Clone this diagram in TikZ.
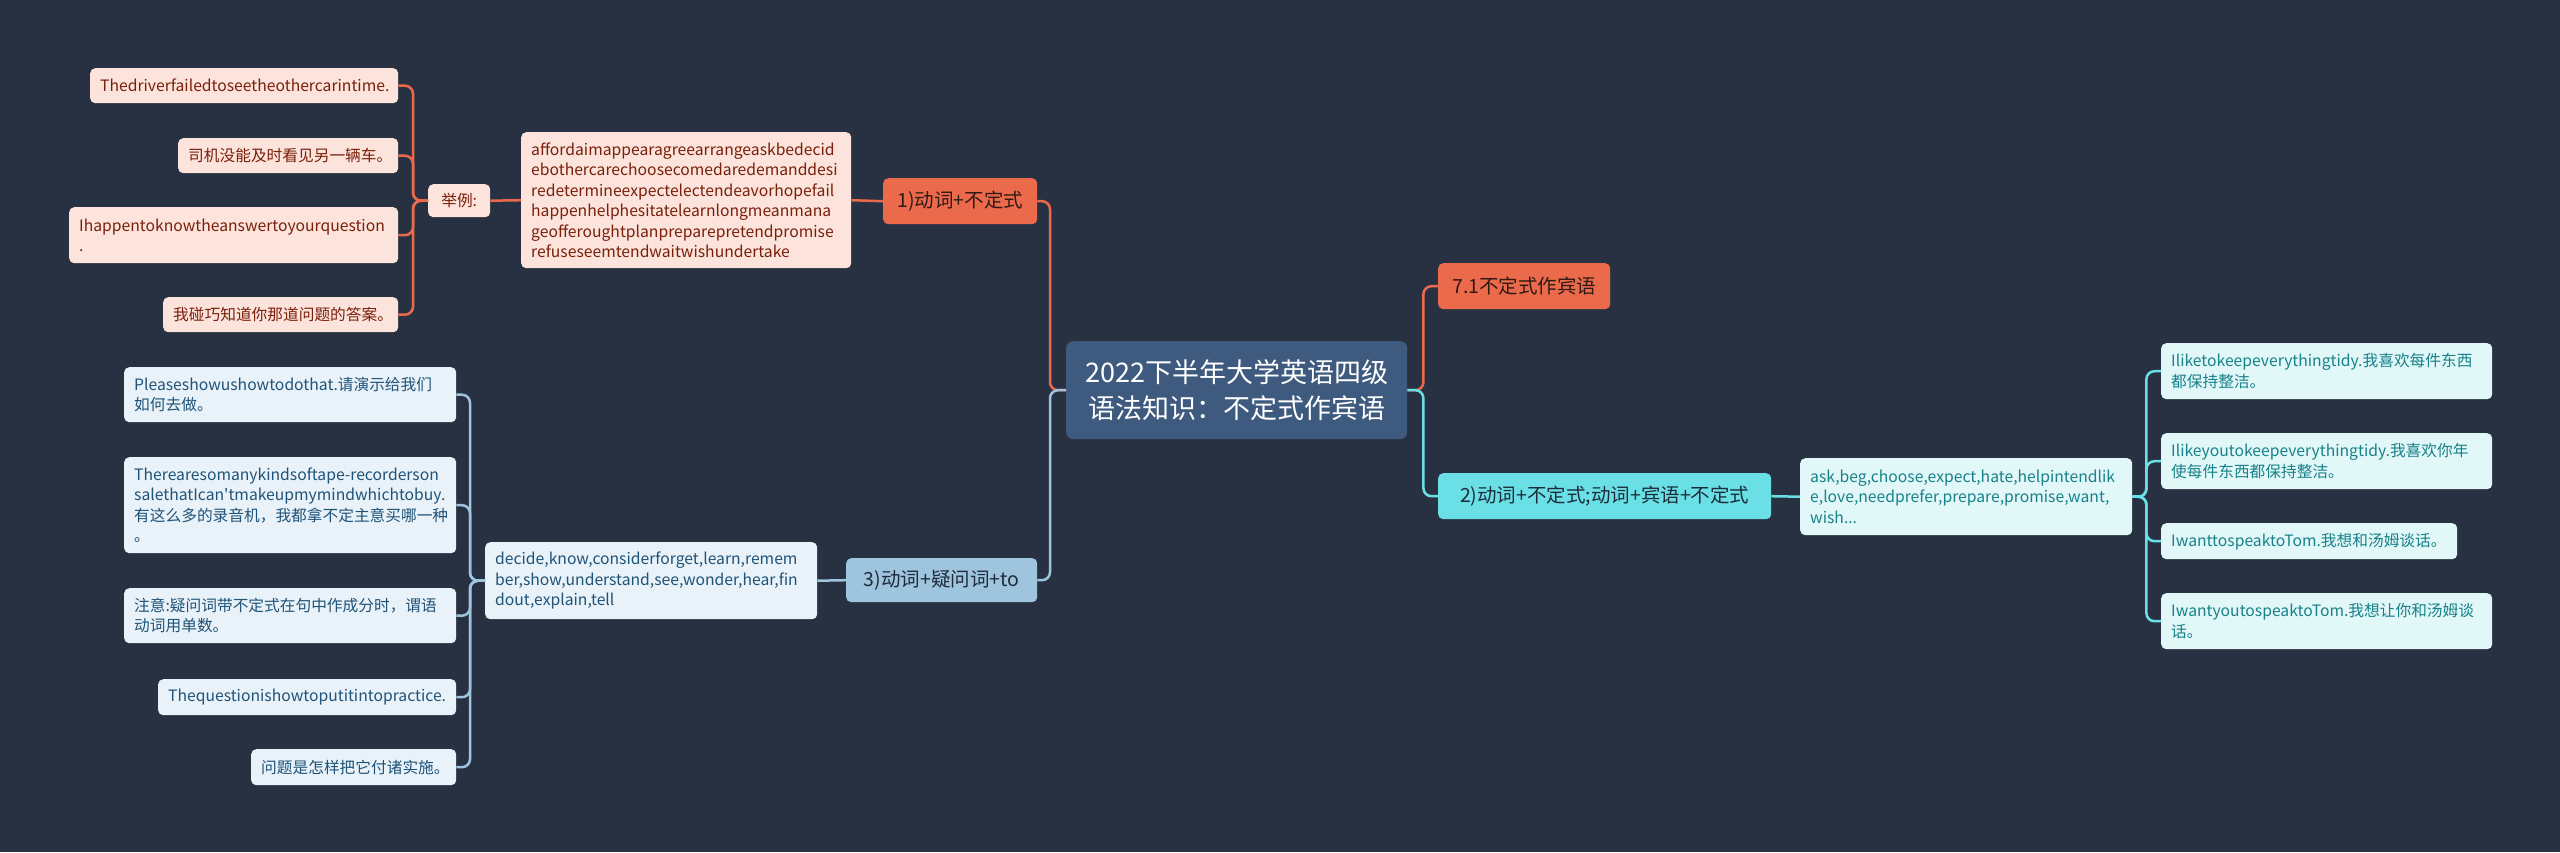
\documentclass[tikz,border=0pt]{standalone}
\usepackage{fontspec}
\setmainfont{Noto Sans CJK SC}[Ligatures=TeXOff]
\hyphenpenalty=10000
\exhyphenpenalty=10000
\definecolor{bg}{HTML}{283142}
\definecolor{rootfill}{HTML}{3E5A7E}
\definecolor{orng}{HTML}{EC6A4C}
\definecolor{orngtext}{HTML}{2F1A14}
\definecolor{pinkfill}{HTML}{FCE4DC}
\definecolor{pinktext}{HTML}{7A1F0A}
\definecolor{cyanc}{HTML}{6AE0E6}
\definecolor{cyantext}{HTML}{1C2E3A}
\definecolor{cleaffill}{HTML}{E1F7F8}
\definecolor{cleaftext}{HTML}{17828A}
\definecolor{bluec}{HTML}{9EC4DE}
\definecolor{bluetext}{HTML}{1E2B3A}
\definecolor{bleaffill}{HTML}{E9F2F9}
\definecolor{bleaftext}{HTML}{1F5378}
\tikzset{
  box/.style={rounded corners=5pt, inner xsep=10pt, inner ysep=0pt, anchor=north west},
  leaffont/.style={font=\fontsize{15.7}{20.5}\selectfont},
  branchfont/.style={font=\fontsize{19.5}{24}\selectfont},
  rootbox/.style={box, rounded corners=7pt, fill=rootfill, text=white, align=center, inner xsep=0pt,
    font=\fontsize{27}{36}\selectfont},
  obranch/.style={box, branchfont, fill=orng, text=orngtext, align=center, inner xsep=0pt},
  cbranch/.style={box, branchfont, fill=cyanc, text=cyantext, align=center, inner xsep=0pt},
  bbranch/.style={box, branchfont, fill=bluec, text=bluetext, align=center, inner xsep=0pt},
  oleaf/.style={box, leaffont, fill=pinkfill, text=pinktext, align=left},
  cleaf/.style={box, leaffont, fill=cleaffill, text=cleaftext, align=left},
  bleaf/.style={box, leaffont, fill=bleaffill, text=bleaftext, align=left},
  conn/.style={line width=2.5pt, rounded corners=8pt},
  oline/.style={conn, draw=orng},
  cline/.style={conn, draw=cyanc},
  bline/.style={conn, draw=bluec},
}
\begin{document}
\begin{tikzpicture}[x=1pt,y=-1pt]
\useasboundingbox (0,0) rectangle (2560,852);
\fill[bg] (0,0) rectangle (2560,852);

% root
\node[rootbox, minimum width=341pt, minimum height=98pt] (root) at (1066,341)
  {2022下半年大学英语四级\\语法知识：不定式作宾语};

% orange left branch
\node[obranch, minimum width=154pt, minimum height=46pt] (b1) at (883,178) {1)动词+不定式};
\node[oleaf, text width=310pt, minimum height=136pt] (words) at (521,132)
  {affordaimappearagreearrangeaskbedecid\\ebothercarechoosecomedaredemanddesi\\redetermineexpectelectendeavorhopefail\\happenhelphesitatelearnlongmeanmana\\geofferoughtplanpreparepretendpromise\\refuseseemtendwaitwishundertake};
\node[oleaf, align=center, inner xsep=0pt, minimum width=62pt, minimum height=33pt] (ju) at (428,184) {举例:};
\node[oleaf, text width=288pt, minimum height=35pt] (o1) at (90,68) {Thedriverfailedtoseetheothercarintime.};
\node[oleaf, text width=200pt, minimum height=35pt] (o2) at (178,138) {司机没能及时看见另一辆车。};
\node[oleaf, text width=309pt, minimum height=56pt] (o3) at (69,207) {Ihappentoknowtheanswertoyourquestion\\.};
\node[oleaf, text width=215pt, minimum height=35pt] (o4) at (163,297) {我碰巧知道你那道问题的答案。};

% orange right branch
\node[obranch, minimum width=172pt, minimum height=46pt] (b2) at (1438,263) {7.1不定式作宾语};

% cyan right branch
\node[cbranch, minimum width=333pt, minimum height=46pt] (b3) at (1438,473) {2)动词+不定式;动词+宾语+不定式};
\node[cleaf, text width=312pt, minimum height=77pt] (ask) at (1800,458)
  {ask,beg,choose,expect,hate,helpintendlik\\e,love,needprefer,prepare,promise,want,\\wish...};
\node[cleaf, text width=311pt, minimum height=56pt] (c1) at (2161,343) {Iliketokeepeverythingtidy.我喜欢每件东西\\都保持整洁。};
\node[cleaf, text width=311pt, minimum height=56pt] (c2) at (2161,433) {Ilikeyoutokeepeverythingtidy.我喜欢你年\\使每件东西都保持整洁。};
\node[cleaf, text width=276pt, minimum height=36pt] (c3) at (2161,523) {IwanttospeaktoTom.我想和汤姆谈话。};
\node[cleaf, text width=311pt, minimum height=56pt] (c4) at (2161,593) {IwantyoutospeaktoTom.我想让你和汤姆谈\\话。};

% blue left branch
\node[bbranch, minimum width=191pt, minimum height=44pt] (b4) at (846,558) {3)动词+疑问词+to};
\node[bleaf, text width=312pt, minimum height=77pt] (decide) at (485,542)
  {decide,know,considerforget,learn,remem\\ber,show,understand,see,wonder,hear,fin\\dout,explain,tell};
\node[bleaf, text width=312pt, minimum height=55pt] (l1) at (124,367) {Pleaseshowushowtodothat.请演示给我们\\如何去做。};
\node[bleaf, text width=312pt, minimum height=96pt] (l2) at (124,457) {Therearesomanykindsoftape-recorderson\\salethatIcan'tmakeupmymindwhichtobuy.\\有这么多的录音机，我都拿不定主意买哪一种\\。};
\node[bleaf, text width=312pt, minimum height=55pt] (l3) at (124,588) {注意:疑问词带不定式在句中作成分时，谓语\\动词用单数。};
\node[bleaf, text width=278pt, minimum height=36pt] (l4) at (158,679) {Thequestionishowtoputitintopractice.};
\node[bleaf, text width=185pt, minimum height=36pt] (l5) at (251,749) {问题是怎样把它付诸实施。};

% connectors
\draw[oline] (root.west) -- ++(-16,0) |- (b1.east);
\draw[bline] (root.west) -- ++(-16,0) |- (b4.east);
\draw[oline] (root.east) -- ++(16,0) |- (b2.west);
\draw[cline] (root.east) -- ++(16,0) |- (b3.west);

\draw[oline] (b1.west) -- (words.east);
\draw[oline] (words.west) -- (ju.east);
\foreach \t in {o1,o2,o3,o4} \draw[oline] (ju.west) -- ++(-15,0) |- (\t.east);

\draw[cline] (b3.east) -- (ask.west);
\foreach \t in {c1,c2,c3,c4} \draw[cline] (ask.east) -- ++(14,0) |- (\t.west);

\draw[bline] (b4.west) -- (decide.east);
\foreach \t in {l1,l2,l3,l4,l5} \draw[bline] (decide.west) -- ++(-15,0) |- (\t.east);
\end{tikzpicture}
\end{document}
